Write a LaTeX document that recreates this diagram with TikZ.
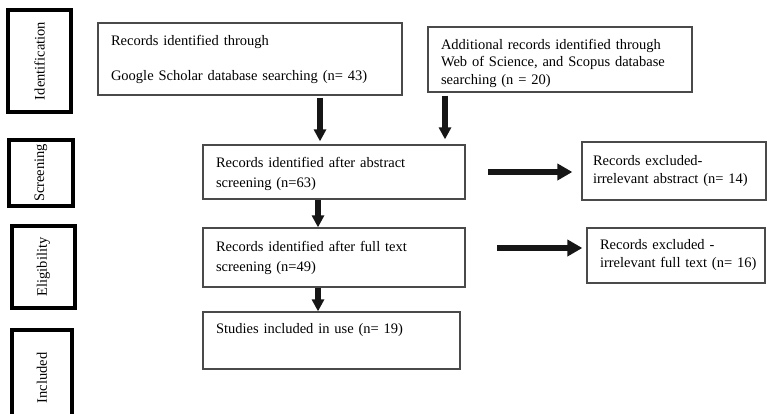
\documentclass[tikz,border=0pt]{standalone}
\usepackage{fontspec}
\setmainfont{Liberation Serif}
\usetikzlibrary{arrows.meta}
\definecolor{boxline}{HTML}{4A4A4A}
\definecolor{arrowcol}{HTML}{161616}
\begin{document}
\begin{tikzpicture}[x=1pt,y=-1pt,
  phase/.style={draw=black, line width=3.6pt, inner sep=0pt, font=\fontsize{14.5}{16}\selectfont},
  box/.style={draw=boxline, line width=1.3pt, inner xsep=13pt, inner ysep=0pt, align=left, font=\fontsize{14.5}{18}\selectfont},
  varrow/.style={draw=arrowcol, line width=5.5pt, -{Triangle[length=12pt,width=12pt]}},
  harrow/.style={draw=arrowcol, line width=6.5pt, -{Triangle[length=15pt,width=16pt]}}
]
\useasboundingbox (0,0) rectangle (767,414);
% phase labels
\node[phase, minimum width=63pt, minimum height=102pt] (pid) at (39.5,61) {\rotatebox{90}{Identification}};
\node[phase, minimum width=64pt, minimum height=66pt] (psc) at (41,173) {\rotatebox{90}{Screening}};
\node[phase, minimum width=63pt, minimum height=82pt] (pel) at (43.5,267) {\rotatebox{90}{Eligibility}};
\node[phase, minimum width=60pt, minimum height=96pt] (pin) at (42,378) {\rotatebox{90}{Included}};
% main boxes
\node[box, minimum width=304pt, minimum height=72pt, text width=278pt] (b1) at (250,59) {Records identified through\\[17pt]Google Scholar database searching (n= 43)};
\node[box, minimum width=264pt, minimum height=65pt, text width=238pt] (b2) at (560,59.5) {\mbox{}\\[0pt]Additional records identified through\\[-0.5pt]Web of Science, and Scopus database\\[-0.5pt]searching (n = 20)};
\node[box, minimum width=262pt, minimum height=54pt, text width=236pt] (b3) at (334,172) {\mbox{}\\[-4pt]Records identified after abstract\\[2pt]screening (n=63)};
\node[box, minimum width=262pt, minimum height=59pt, text width=236pt] (b4) at (334,257.5) {Records identified after full text\\[2pt]screening (n=49)};
\node[box, minimum width=257pt, minimum height=57pt, text width=231pt] (b5) at (331.5,340.5) {Studies included in use (n= 19)\\[6pt]\mbox{}};
\node[box, minimum width=184pt, minimum height=58pt, text width=162pt, inner xsep=11pt] (e1) at (674,171) {Records excluded-\\irrelevant abstract (n= 14)};
\node[box, minimum width=178pt, minimum height=55pt, text width=164pt, inner xsep=7pt] (e2) at (676,255.5) {\hspace*{6pt}Records excluded -\\\hspace*{6pt}irrelevant full text (n= 16)};
% connectors
\coordinate (a1) at (320,0);
\coordinate (a2) at (445,0);
\coordinate (a3) at (318,0);
\coordinate (s1) at (488,172);
\coordinate (s2) at (497,248);
\draw[varrow, shorten <=2pt, shorten >=3pt] (b1.south -| a1) -- (b3.north -| a1);
\draw[varrow, shorten <=3pt, shorten >=5pt] (b2.south -| a2) -- (b3.north -| a2);
\draw[varrow] (b3.south -| a3) -- (b4.north -| a3);
\draw[varrow] (b4.south -| a3) -- (b5.north -| a3);
\draw[harrow, shorten >=9pt] (s1) -- (s1 -| e1.west);
\draw[harrow, shorten >=4pt] (s2) -- (s2 -| e2.west);
\end{tikzpicture}
\end{document}
